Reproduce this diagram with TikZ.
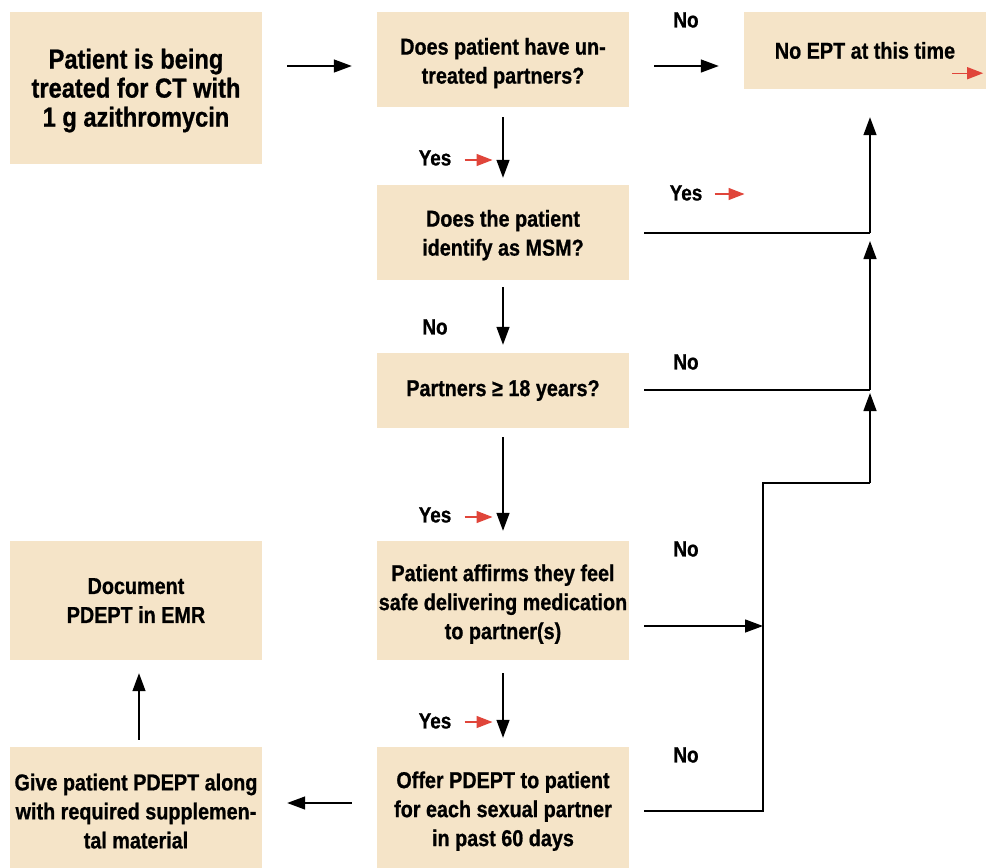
\documentclass[tikz,border=0pt]{standalone}
\usepackage{fontspec}
\setmainfont{Liberation Sans}[FakeStretch=0.86, BoldFeatures={FakeBold=0.8}]
\usetikzlibrary{arrows.meta,calc}
\definecolor{boxfill}{HTML}{F5E4C8}
\definecolor{redarr}{HTML}{E0453A}
\newcommand\lowr{\rule{0pt}{24pt}}
\newcommand\lowrmid{\rule{0pt}{22pt}}
\newcommand\lowrbig{\rule{0pt}{25pt}}
\begin{document}
\begin{tikzpicture}[x=1pt,y=-1pt,
  box/.style={fill=boxfill, draw=none, align=center, inner sep=0pt,
    font=\fontsize{23}{29}\selectfont\bfseries, minimum width=252pt},
  bigbox/.style={box, font=\fontsize{27.5}{29}\selectfont\bfseries},
  arr/.style={line width=1.4pt, -{Triangle[length=18pt,width=13pt]}},
  ln/.style={line width=1.4pt},
  lbl/.style={inner sep=0pt, font=\fontsize{22}{25}\selectfont\bfseries},
  redarrow/.style={draw=redarr, line width=1.4pt, -{Triangle[length=16pt,width=12pt]}}
]
\useasboundingbox (0,0) rectangle (986,868);

% boxes
\node[bigbox, minimum height=152pt] (start) at (136,88) {\lowrbig Patient is being\\treated for CT with\\1 g azithromycin};
\node[box, minimum height=95pt] (q1) at (503,59.5) {\lowr Does patient have un-\\treated partners?};
\node[box, minimum width=242pt, minimum height=77pt] (noept) at (865,50.5) {No EPT at this time};
\node[box, minimum height=95pt] (q2) at (503,232.5) {\lowrmid Does the patient\\identify as MSM?};
\node[box, minimum height=75pt] (q3) at (503,390.5) {Partners ≥ 18 years?};
\node[box, minimum height=119pt] (q4) at (503,600.5) {\lowr Patient affirms they feel\\safe delivering medication\\to partner(s)};
\node[box, minimum height=121pt] (q5) at (503,807.5) {\lowr Offer PDEPT to patient\\for each sexual partner\\in past 60 days};
\node[box, minimum height=119pt] (doc) at (136,600.5) {Document\\PDEPT in EMR};
\node[box, minimum height=121pt] (give) at (136,807.5) {\lowr Give patient PDEPT along\\with required supplemen-\\tal material};

% labels
\node[lbl] (no1) at (686,20) {No};
\node[lbl] (yes1) at (435,158) {Yes};
\node[lbl] (yes2) at (686,193) {Yes};
\node[lbl] (no2) at (435,327) {No};
\node[lbl] (no3) at (686,362) {No};
\node[lbl] (yes3) at (435,515) {Yes};
\node[lbl] (no4) at (686,549) {No};
\node[lbl] (yes4) at (435,721) {Yes};
\node[lbl] (no5) at (686,755) {No};

% red marker arrows
\draw[redarrow] ([xshift=13pt,yshift=-2pt]yes1.east) -- ++(28,0);
\draw[redarrow] ([xshift=12pt,yshift=-1pt]yes2.east) -- ++(30,0);
\draw[redarrow] ([xshift=13pt,yshift=-2pt]yes3.east) -- ++(28,0);
\draw[redarrow] ([xshift=13pt,yshift=-1pt]yes4.east) -- ++(28,0);
\draw[redarrow] ($(noept.south east)+(-34,-16)$) -- ($(noept.south east)+(-3,-16)$);

% junction coordinates
\coordinate (j1) at (870,233);
\coordinate (j2) at (870,390);
\coordinate (j3) at (870,483);
\coordinate (j4) at (763,626);
\coordinate (j5) at (763,811);
\coordinate (j6) at (763,483);

% main connectors
\draw[arr, shorten <=25pt, shorten >=25pt] (start.east |- 0,66) -- (q1.west |- 0,66);
\draw[arr, shorten <=25pt, shorten >=25pt] (q1.east |- 0,66) -- (noept.west |- 0,66);
\draw[arr, shorten <=10pt, shorten >=7pt] (q1.south) -- (q2.north);
\draw[arr, shorten <=7pt, shorten >=8pt] (q2.south) -- (q3.north);
\draw[arr, shorten <=9pt, shorten >=10pt] (q3.south) -- (q4.north);
\draw[arr, shorten <=13pt, shorten >=9pt] (q4.south) -- (q5.north);
\draw[arr, shorten <=25pt, shorten >=25pt] (q5.west |- 0,803) -- (give.east |- 0,803);
\draw[arr, shorten <=7pt, shorten >=13pt] ([xshift=3pt]give.north) -- ([xshift=3pt]doc.south);

% right-hand "No" paths
\draw[ln, shorten <=15pt] (q2.east |- j1) -- (j1);
\draw[arr, shorten >=28pt] (j1) -- (j1 |- noept.south);
\draw[ln, shorten <=15pt] (q3.east |- j2) -- (j2);
\draw[arr, shorten >=8pt] (j2) -- (j1);
\draw[arr, shorten <=15pt] (q4.east |- j4) -- (j4);
\draw[ln, shorten <=15pt] (q5.east |- j5) -- (j5) -- (j6) -- (j3);
\draw[arr, shorten >=3pt] (j3) -- (j2);
\end{tikzpicture}
\end{document}
